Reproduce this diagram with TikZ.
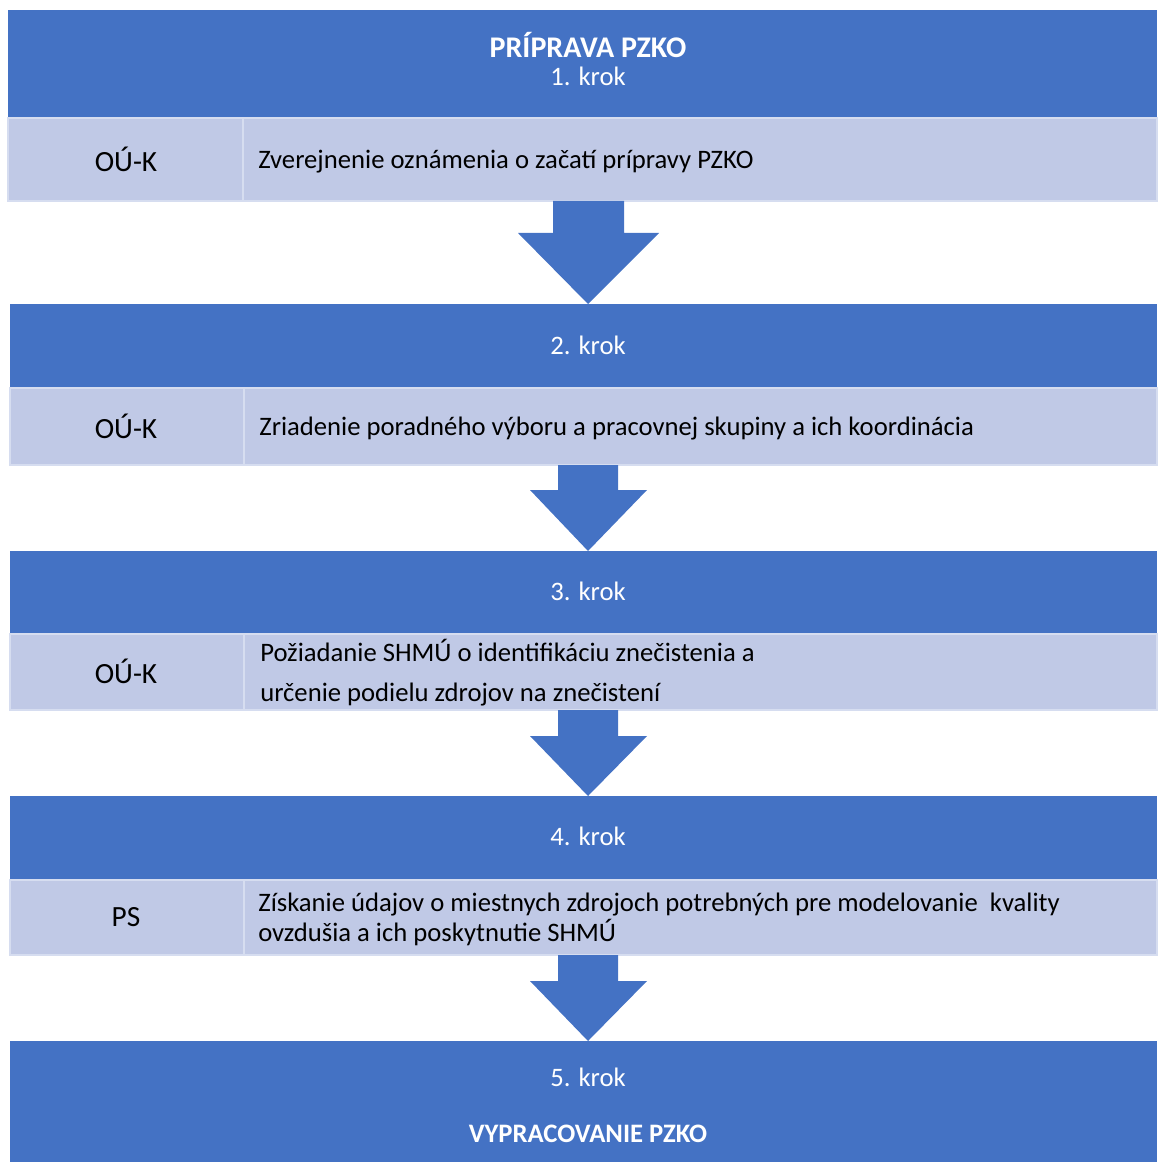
\documentclass[tikz,border=0pt]{standalone}
\usepackage{fontspec}
\setmainfont{Carlito}
\definecolor{hdrblue}{RGB}{68,114,196}
\definecolor{rowblue}{RGB}{192,201,230}
\definecolor{rowline}{RGB}{214,221,240}

\begin{document}
\begin{tikzpicture}[x=0.75pt,y=-0.75pt,
		hdr/.style={fill=hdrblue},
		row/.style={fill=rowblue,draw=rowline,line width=1.2pt},
		cut/.style={draw=rowline,line width=1.2pt},
		arr/.style={fill=hdrblue},
		txt/.style={font=\fontsize{20}{24}\selectfont,inner sep=0pt},
		who/.style={txt,font=\fontsize{22}{26}\selectfont},
		wtxt/.style={txt,text=white},
		btxt/.style={wtxt,font=\fontsize{20}{24}\selectfont\bfseries}]
		\useasboundingbox (0,0) rectangle (1157,1162);
		% 1. krok
		\fill[hdr] (8,10) rectangle (1157,118);
		\filldraw[row] (8,118) rectangle (1157,201);
		\draw[cut] (243,118) -- (243,201);
		\node[btxt,font=\fontsize{22.5}{26}\selectfont\bfseries] (title1) at (588,45) {PRÍPRAVA PZKO};
		\node[wtxt] (krok1) at (588,76) {1. krok};
		\node[who] (who1) at (126,159) {OÚ-K};
		\node[txt,anchor=west] (what1) at (258,162) {Zverejnenie oznámenia o začatí prípravy PZKO};
		\fill[arr] (553,201) -- (624,201) -- (624,233) -- (659,233) -- (588,304)
			-- (518,233) -- (553,233) -- cycle;
		% 2. krok
		\fill[hdr] (10,304) rectangle (1157,388);
		\filldraw[row] (10,388) rectangle (1157,465);
		\draw[cut] (244,388) -- (244,465);
		\node[wtxt] (krok2) at (588,345) {2. krok};
		\node[who] (who2) at (126,426) {OÚ-K};
		\node[txt,anchor=west] (what2) at (259,429) {Zriadenie poradného výboru a pracovnej skupiny a ich koordinácia};
		\fill[arr] (558,465) -- (618,465) -- (618,490) -- (647,490) -- (588,551)
			-- (530,490) -- (558,490) -- cycle;
		% 3. krok
		\fill[hdr] (10,551) rectangle (1157,634);
		\filldraw[row] (10,634) rectangle (1157,710);
		\draw[cut] (244,634) -- (244,710);
		\node[wtxt] (krok3) at (588,591) {3. krok};
		\node[who] (who3) at (126,671) {OÚ-K};
		\node[txt,anchor=west,align=left,font=\fontsize{20}{30}\selectfont] (what3) at (260,673)
			{Požiadanie SHMÚ o identifikáciu znečistenia a\\určenie podielu zdrojov na znečistení};
		\fill[arr] (558,710) -- (618,710) -- (618,736) -- (647,736) -- (588,796)
			-- (530,736) -- (558,736) -- cycle;
		% 4. krok
		\fill[hdr] (10,796) rectangle (1157,880);
		\filldraw[row] (10,880) rectangle (1157,955);
		\draw[cut] (244,880) -- (244,955);
		\node[wtxt] (krok4) at (588,836) {4. krok};
		\node[who] (who4) at (126,917) {PS};
		\node[txt,anchor=west,align=left,font=\fontsize{20}{22.5}\selectfont] (what4) at (258,919)
			{Získanie údajov o miestnych zdrojoch potrebných pre modelovanie\ \ kvality\\ovzdušia a ich poskytnutie SHMÚ};
		\fill[arr] (558,955) -- (618,955) -- (618,981) -- (647,981) -- (588,1041)
			-- (530,981) -- (558,981) -- cycle;
		% 5. krok
		\fill[hdr] (10,1041) rectangle (1157,1162);
		\node[wtxt] (krok5) at (588,1077) {5. krok};
		\node[btxt] (title5) at (588,1134) {VYPRACOVANIE PZKO};
	\end{tikzpicture}
\end{document}
